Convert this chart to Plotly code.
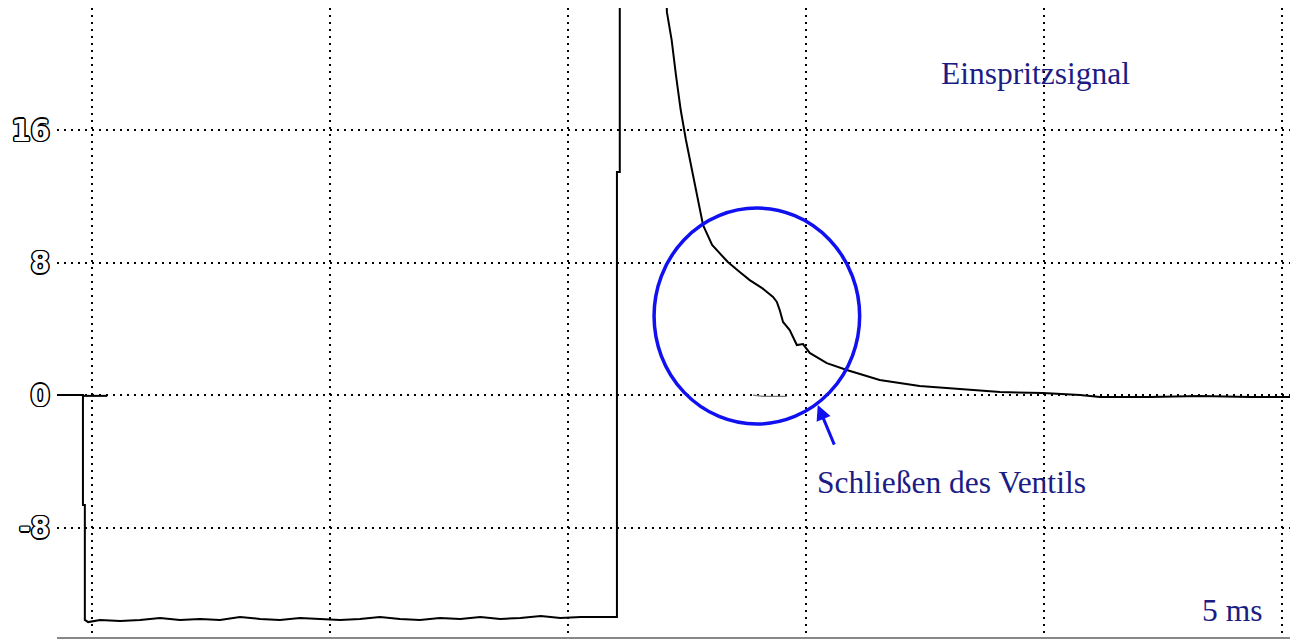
import plotly.graph_objects as go

# time in ms (5 ms per division), signal in V
t_ms = [-0.70, -0.40, -0.19, -0.19, -0.15, -0.15,
        -0.08, 0.17, 0.59, 1.01, 1.43, 1.85, 2.27, 2.69, 3.11, 3.53, 3.95, 4.37, 4.79,
        5.21, 5.63, 6.05, 6.47, 6.89, 7.31, 7.74, 8.16, 8.58, 9.00, 9.43, 9.84, 10.27,
        10.67, 11.03, 11.03, 11.09, 11.09, 12.02,
        12.08, 12.18, 12.27, 12.37, 12.48, 12.61, 12.73, 12.84, 13.03, 13.36, 13.61,
        13.82, 14.08, 14.31, 14.39, 14.45, 14.52, 14.66, 14.81, 14.94, 15.08, 15.44,
        15.86, 16.55, 17.39, 18.24, 19.08, 19.98, 20.76, 21.18, 22.23, 23.28, 24.33, 25.34]
u_V = [0.00, 0.02, 0.00, -6.64, -6.64, -13.58,
       -13.71, -13.58, -13.65, -13.58, -13.46, -13.58, -13.52, -13.58, -13.40, -13.52, -13.58, -13.46, -13.52,
       -13.58, -13.52, -13.40, -13.52, -13.58, -13.46, -13.52, -13.40, -13.52, -13.46, -13.34, -13.46, -13.40,
       -13.40, -13.40, 13.46, 13.46, 30.0, 30.0,
       23.12, 21.43, 19.32, 17.21, 15.40, 13.58, 11.89, 10.26, 9.06, 8.03, 7.43,
       6.94, 6.46, 5.92, 5.62, 5.13, 4.41, 3.92, 3.02, 3.08, 2.54, 1.93,
       1.51, 0.91, 0.54, 0.36, 0.18, 0.12, 0.00, -0.12, -0.12, -0.06, -0.12, -0.12]

# zero-level marker stub at the left and faint ghost trace inside the circle
marker_t = [-0.19, 0.32]
marker_u = [-0.05, -0.05]
ghost_t = [13.89, 14.10, 14.60]
ghost_u = [0.0, -0.08, -0.08]

y_ticks = [-8, 0, 8, 16]
y_labels = ["-8", "0", "8", "16"]
x_grid = [0, 5, 10, 15, 20, 25]

navy = "#1c1c84"
blue = "#1010f0"

fig = go.Figure()
fig.add_trace(go.Scatter(x=t_ms, y=u_V, mode="lines",
                         line=dict(color="black", width=2), hoverinfo="skip"))
fig.add_trace(go.Scatter(x=marker_t, y=marker_u, mode="lines",
                         line=dict(color="black", width=2), hoverinfo="skip"))
fig.add_trace(go.Scatter(x=ghost_t, y=ghost_u, mode="lines",
                         line=dict(color="#777777", width=1.2), hoverinfo="skip"))

fig.add_shape(type="circle", xref="x", yref="y", x0=11.81, x1=16.13, y0=-1.75, y1=11.29,
              line=dict(color=blue, width=3.5))

fig.add_annotation(x=15.25, y=-0.60, ax=15.61, ay=-3.08, axref="x", ayref="y",
                   xref="x", yref="y", showarrow=True, arrowhead=2, arrowsize=1,
                   arrowwidth=3, arrowcolor=blue, text="")
font_serif = "Liberation Serif, Times New Roman, serif"
fig.add_annotation(x=19.83, y=19.44, xref="x", yref="y", text="Einspritzsignal",
                   showarrow=False, font=dict(family=font_serif, size=31.5, color=navy))
fig.add_annotation(x=18.05, y=-5.31, xref="x", yref="y", text="Schließen des Ventils",
                   showarrow=False, font=dict(family=font_serif, size=31.5, color=navy))
fig.add_annotation(x=23.95, y=-12.98, xref="x", yref="y", text="5 ms",
                   showarrow=False, font=dict(family=font_serif, size=31.5, color=navy))

# the page body adds an 8px offset, so the figure is 8px smaller in each direction
fig.update_layout(
    width=1290, height=632,
    margin=dict(l=49, r=0, t=0, b=3),
    paper_bgcolor="white", plot_bgcolor="white",
    showlegend=False,
    xaxis=dict(range=[-0.735, 25.34], tickvals=x_grid, showticklabels=False,
               showgrid=True, gridcolor="black", gridwidth=2, griddash="2px,5px",
               zeroline=False, showline=True, linecolor="#888888", linewidth=2,
               mirror=False, ticks=""),
    yaxis=dict(range=[-14.61, 23.37], tickvals=y_ticks, ticktext=y_labels,
               showgrid=True, gridcolor="black", gridwidth=2, griddash="2px,5px",
               zeroline=False, showline=False, ticks="", ticklabelstandoff=6,
               tickfont=dict(family="DejaVu Sans Condensed, DejaVu Sans", size=31,
                             color="white", weight="bold",
                             shadow="1.5px 0 0 #000, -1.5px 0 0 #000, 0 1.5px 0 #000, 0 -1.5px 0 #000, 1px 1px 0 #000, -1px -1px 0 #000, 1px -1px 0 #000, -1px 1px 0 #000")),
)

fig.write_html("out.html")
